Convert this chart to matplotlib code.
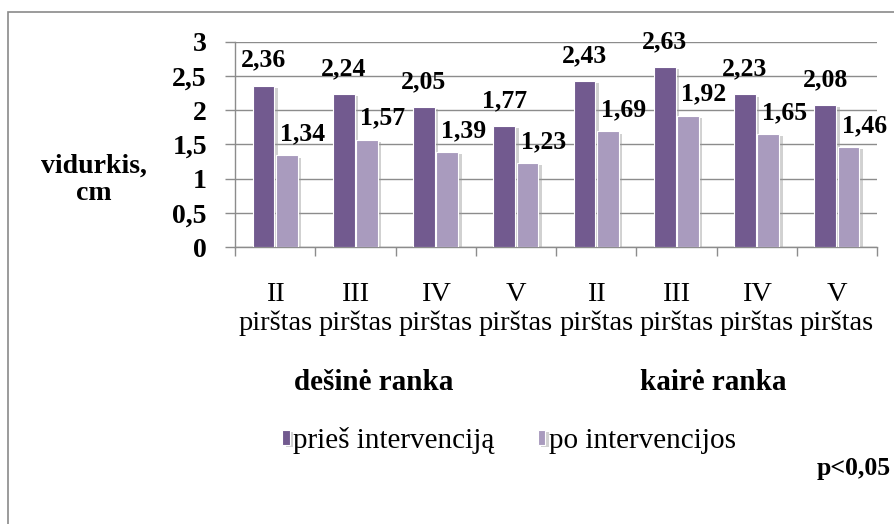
import matplotlib
matplotlib.use("Agg")
import matplotlib.pyplot as plt
import matplotlib.patches as mpatches
import matplotlib.patheffects as pe
import numpy as np

categories = ["II\npirštas", "III\npirštas", "IV\npirštas", "V\npirštas",
              "II\npirštas", "III\npirštas", "IV\npirštas", "V\npirštas"]
before = [2.36, 2.24, 2.05, 1.77, 2.43, 2.63, 2.23, 2.08]
after = [1.34, 1.57, 1.39, 1.23, 1.69, 1.92, 1.65, 1.46]
series_names = ["prieš intervenciją", "po intervencijos"]
group_names = ["dešinė ranka", "kairė ranka"]
ytick_values = [0, 0.5, 1, 1.5, 2, 2.5, 3]
ytick_labels = ["0", "0,5", "1", "1,5", "2", "2,5", "3"]
ylabel_text = "vidurkis,\ncm"
note_text = "p<0,05"

dark = "#725A8F"
light = "#A99BBE"
grid_c = "#8C8C8C"
FONT = ["Liberation Serif", "DejaVu Serif"]
plt.rcParams["font.family"] = FONT

W, H = 894, 524
fig = plt.figure(figsize=(W / 100, H / 100), dpi=100)
fig.patch.set_facecolor("white")

# outer chart border
border = mpatches.Rectangle((8 / W, -0.1), 1.2, (H - 12) / H + 0.1,
                            transform=fig.transFigure, fill=False,
                            edgecolor="#8A8A8A", linewidth=1.2)
fig.patches.append(border)

ax = fig.add_axes([235 / W, 1 - 247.3 / H, (877 - 235) / W, (247.3 - 41.7) / H])
x = np.arange(len(categories))
bw = 0.27
shadow = [pe.SimplePatchShadow(offset=(2.5, -1.5), shadow_rgbFace="#9a9a9a", alpha=0.45), pe.Normal()]
b1 = ax.bar(x - 0.145, before, bw, color=dark, edgecolor="white", linewidth=0.8,
            label=series_names[0], zorder=3, path_effects=shadow)
b2 = ax.bar(x + 0.145, after, bw, color=light, edgecolor="white", linewidth=0.8,
            label=series_names[1], zorder=3, path_effects=shadow)

def fmt(v):
    return f"{v:.2f}".replace(".", ",")

for xi, v in zip(x - 0.145, before):
    ax.annotate(fmt(v), (xi, v), xytext=(0, 13.5), textcoords="offset points",
                ha="center", va="baseline", fontsize=18.5, fontweight="bold",
                family=FONT, zorder=5, annotation_clip=False)
for xi, v in zip(x + 0.145, after):
    ax.annotate(fmt(v), (xi, v), xytext=(11.5, 10.8), textcoords="offset points",
                ha="center", va="baseline", fontsize=18.5, fontweight="bold",
                family=FONT, zorder=5, annotation_clip=False)

ax.set_xlim(-0.5, len(categories) - 0.5)
ax.set_ylim(0, 3)
ax.set_yticks(ytick_values)
ax.set_yticklabels(ytick_labels, fontsize=20, fontweight="bold", family=FONT)
ax.set_xticks(x)
ax.set_xticklabels(categories, fontsize=20.5, family=FONT, linespacing=1.18)
ax.set_xticks(np.arange(-0.5, len(categories), 1), minor=True)
ax.tick_params(axis="x", which="major", length=0, pad=25)
ax.tick_params(axis="x", which="minor", length=6.5, color=grid_c, width=1)
ax.tick_params(axis="y", which="major", length=7.2, color=grid_c, width=1, pad=13)
ax.grid(axis="y", color=grid_c, linewidth=1, zorder=0)
ax.set_axisbelow(True)
for s in ["top", "right"]:
    ax.spines[s].set_visible(False)
for s in ["left", "bottom"]:
    ax.spines[s].set_color(grid_c)
    ax.spines[s].set_linewidth(1)

# y-axis title
fig.text(94 / W, 1 - 180 / H, ylabel_text, ha="center", va="center", fontsize=20,
         fontweight="bold", family=FONT, linespacing=1.1)

# group labels
fig.text(374 / W, 1 - 383 / H, group_names[0], ha="center", va="center",
         fontsize=21, fontweight="bold", family=FONT)
fig.text(713 / W, 1 - 383 / H, group_names[1], ha="center", va="center",
         fontsize=21, fontweight="bold", family=FONT)

leg = fig.legend(handles=[b1, b2], labels=series_names, loc="center",
                 bbox_to_anchor=(509 / W, 1 - 440 / H), ncol=2, frameon=False,
                 prop={"family": FONT, "size": 21}, handlelength=0.25,
                 handleheight=0.42, handletextpad=0.12, columnspacing=1.5)

fig.text(891 / W, 1 - 468 / H, note_text, ha="right", va="center", fontsize=18.5,
         fontweight="bold", family=FONT)

fig.savefig("out.png", dpi=100, facecolor="white")
